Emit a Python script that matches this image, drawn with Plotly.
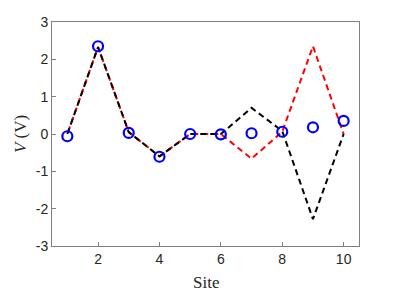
import plotly.graph_objects as go

sites = [1, 2, 3, 4, 5, 6, 7, 8, 9, 10]
v_red = [0.0, 2.33, 0.05, -0.6, 0.0, 0.0, -0.66, 0.06, 2.35, 0.0]
v_black = [0.0, 2.33, 0.05, -0.6, 0.0, 0.0, 0.7, 0.08, -2.28, 0.0]
v_blue = [-0.06, 2.35, 0.03, -0.61, 0.0, -0.01, 0.02, 0.06, 0.18, 0.35]
x_ticks = [2, 4, 6, 8, 10]
y_ticks = [-3, -2, -1, 0, 1, 2, 3]
y_tick_text = ["-3", "-2", "-1", "0", "1", "2", "3"]

fig = go.Figure()
fig.add_trace(go.Scatter(x=sites, y=v_red, mode="lines",
                         line=dict(color="#ff0000", width=2, dash="0px,2px,6px,2px")))
fig.add_trace(go.Scatter(x=sites, y=v_black, mode="lines",
                         line=dict(color="#000000", width=2, dash="6px,4px")))
fig.add_trace(go.Scatter(x=sites, y=v_blue, mode="markers",
                         marker=dict(symbol="circle-open", size=10,
                                     color="#0000ff", line=dict(width=2.2, color="#0000ff"))))

axis_common = dict(showgrid=False, zeroline=False, showline=True, mirror=True, automargin=False,
                   linecolor="#808080", linewidth=1, ticks="inside", ticklen=4,
                   tickcolor="#808080", tickfont=dict(family="Liberation Sans, Arial", size=14, color="#262626"))

title_font = dict(family="Liberation Serif, serif", size=17, color="#262626")

fig.update_layout(
    width=397, height=297,
    margin=dict(l=44, r=46, t=14, b=59),
    paper_bgcolor="white", plot_bgcolor="white",
    showlegend=False,
    xaxis=dict(range=[0.5, 10.5], tickvals=x_ticks, **axis_common),
    yaxis=dict(range=[-3, 3], tickvals=y_ticks, ticktext=y_tick_text, **axis_common),
    annotations=[
        dict(text="Site", xref="paper", yref="paper", x=0.5, y=-0.165,
             xanchor="center", yanchor="middle", showarrow=False, font=title_font),
        dict(text="<i>V</i> (V)", xref="paper", yref="paper", x=-0.104, y=0.5,
             xanchor="center", yanchor="middle", textangle=-90, showarrow=False, font=title_font),
    ],
)
fig.write_html("out.html")
